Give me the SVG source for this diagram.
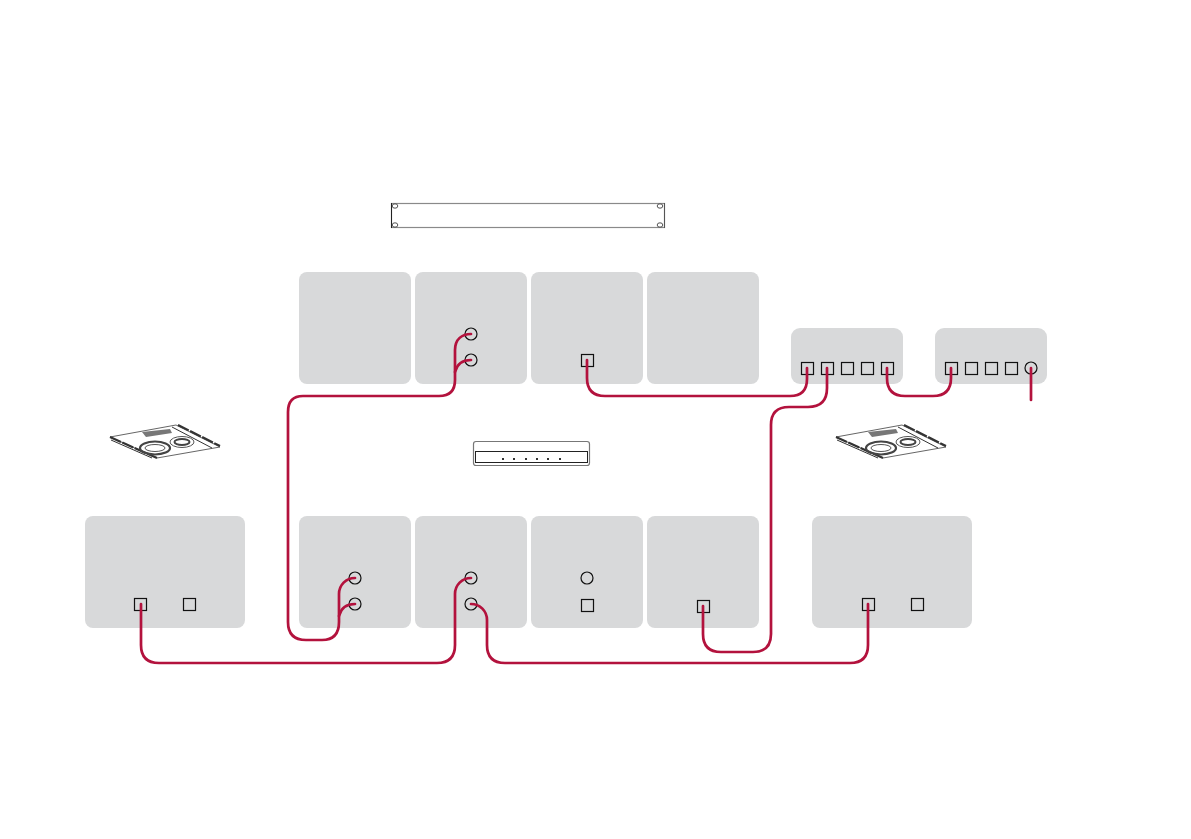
<svg xmlns="http://www.w3.org/2000/svg" width="1191" height="839" viewBox="0 0 1191 839">
<style>
.box{fill:#d8d9da}
.port{fill:none;stroke:#111;stroke-width:1.2}
.wire{fill:none;stroke:#b3123d;stroke-width:2.7;stroke-linecap:round}
.ln{fill:none;stroke:#555;stroke-width:1}
.dk{fill:none;stroke:#333;stroke-width:1}
.th{fill:none;stroke:#333;stroke-width:2.2}
</style>
<defs>
<g id="tray">
<path d="M110 437L176 425L220 447L157 458Z" fill="#fff" stroke="#666" stroke-width="1"/>
<path class="th" stroke-dasharray="12 1.500" d="M110 437L157 458"/>
<path class="dk" d="M111 440L152 458"/>
<path class="th" stroke-dasharray="12 1.500" d="M178 425L220 446"/>
<path class="dk" d="M172 427L212 448"/>
<ellipse cx="155" cy="448" rx="15" ry="6.500" fill="none" stroke="#444" stroke-width="2.200"/>
<ellipse class="ln" cx="155" cy="448" rx="10" ry="3.500"/>
<ellipse class="ln" cx="182" cy="442" rx="12" ry="5.500"/>
<ellipse cx="182" cy="442" rx="7.500" ry="3" fill="none" stroke="#444" stroke-width="2"/>
<path d="M142 432L170 429L172 433L146 437Z" fill="#777"/>
</g>
</defs>
<g id="rack-panel">
<rect x="391.500" y="203.500" width="273" height="24" fill="#fff" stroke="#8a8a8a" stroke-width="1.200"/>
<path d="M391.500 203V228" stroke="#222" fill="none"/>
<path d="M664.500 203V228" stroke="#555" fill="none"/>
<ellipse class="ln" cx="395" cy="206" rx="2.800" ry="2.200"/>
<ellipse class="ln" cx="395" cy="225" rx="2.800" ry="2.200"/>
<ellipse class="ln" cx="660" cy="206" rx="2.800" ry="2.200"/>
<ellipse class="ln" cx="660" cy="225" rx="2.800" ry="2.200"/>
</g>
<g id="n-top-1"><rect class="box" x="299" y="272" width="112" height="112" rx="8"/></g>
<g id="n-top-2"><rect class="box" x="415" y="272" width="112" height="112" rx="8"/><circle class="port" cx="471" cy="334" r="6"/><circle class="port" cx="471" cy="360" r="6"/></g>
<g id="n-top-3"><rect class="box" x="531" y="272" width="112" height="112" rx="8"/><rect class="port" x="581.500" y="354.500" width="12" height="12"/></g>
<g id="n-top-4"><rect class="box" x="647" y="272" width="112" height="112" rx="8"/></g>
<g id="n-sw-1"><rect class="box" x="791" y="328" width="112" height="56" rx="9"/>
<rect class="port" x="801.500" y="362.500" width="12" height="12"/><rect class="port" x="821.500" y="362.500" width="12" height="12"/><rect class="port" x="841.500" y="362.500" width="12" height="12"/><rect class="port" x="861.500" y="362.500" width="12" height="12"/><rect class="port" x="881.500" y="362.500" width="12" height="12"/></g>
<g id="n-sw-2"><rect class="box" x="935" y="328" width="112" height="56" rx="9"/>
<rect class="port" x="945.500" y="362.500" width="12" height="12"/><rect class="port" x="965.500" y="362.500" width="12" height="12"/><rect class="port" x="985.500" y="362.500" width="12" height="12"/><rect class="port" x="1005.500" y="362.500" width="12" height="12"/><circle class="port" cx="1031" cy="368" r="6"/></g>
<g id="n-tray-l"><use href="#tray"/></g>
<g id="n-tray-r"><use href="#tray" x="726"/></g>
<g id="n-hub">
<rect x="473.500" y="441.500" width="116" height="24" rx="2.500" fill="#fff" stroke="#777" stroke-width="1.200"/>
<rect x="475.500" y="451.500" width="112" height="11" fill="#fff" stroke="#222"/>
<g fill="#333"><rect x="502" y="458" width="2" height="2"/><rect x="513" y="458" width="2" height="2"/><rect x="525" y="458" width="2" height="2"/><rect x="536" y="458" width="2" height="2"/><rect x="547" y="458" width="2" height="2"/><rect x="559" y="458" width="2" height="2"/></g>
</g>
<g id="n-bot-l"><rect class="box" x="85" y="516" width="160" height="112" rx="8"/><rect class="port" x="134.500" y="598.500" width="12" height="12"/><rect class="port" x="183.500" y="598.500" width="12" height="12"/></g>
<g id="n-bot-1"><rect class="box" x="299" y="516" width="112" height="112" rx="8"/><circle class="port" cx="355" cy="578" r="6"/><circle class="port" cx="355" cy="604" r="6"/></g>
<g id="n-bot-2"><rect class="box" x="415" y="516" width="112" height="112" rx="8"/><circle class="port" cx="471" cy="578" r="6"/><circle class="port" cx="471" cy="604" r="6"/></g>
<g id="n-bot-3"><rect class="box" x="531" y="516" width="112" height="112" rx="8"/><circle class="port" cx="587" cy="578" r="6"/><rect class="port" x="581.500" y="599.500" width="12" height="12"/></g>
<g id="n-bot-4"><rect class="box" x="647" y="516" width="112" height="112" rx="8"/><rect class="port" x="697.500" y="600.500" width="12" height="12"/></g>
<g id="n-bot-r"><rect class="box" x="812" y="516" width="160" height="112" rx="8"/><rect class="port" x="862.500" y="598.500" width="12" height="12"/><rect class="port" x="911.500" y="598.500" width="12" height="12"/></g>
<g id="connectors">
<path class="wire" d="M471 334C462 334 455 339 455 350V380Q455 396 439 396H303Q288 396 288 412V622Q288 640 306 640H322Q339 640 339 622V594C339 585 346 578 355 578"/>
<path class="wire" d="M471 360C463 360 457 364 455 372"/>
<path class="wire" d="M355 604C347 604 341 608 339 616"/>
<path class="wire" d="M587 360V378Q587 396 605 396H790Q807 396 807 379V368"/>
<path class="wire" d="M827 368V388Q827 407 808 407H789Q771 407 771 425V634Q771 652 753 652H721Q703 652 703 634V606"/>
<path class="wire" d="M887 368V378Q887 396 905 396H933Q951 396 951 378V368"/>
<path class="wire" d="M1031 368V400"/>
<path class="wire" d="M141 604V645Q141 663 159 663H437Q455 663 455 645V594C455 585 462 578 471 578"/>
<path class="wire" d="M471 604C480 604 487 611 487 620V645Q487 663 505 663H850Q868 663 868 645V604"/>
</g>
</svg>
